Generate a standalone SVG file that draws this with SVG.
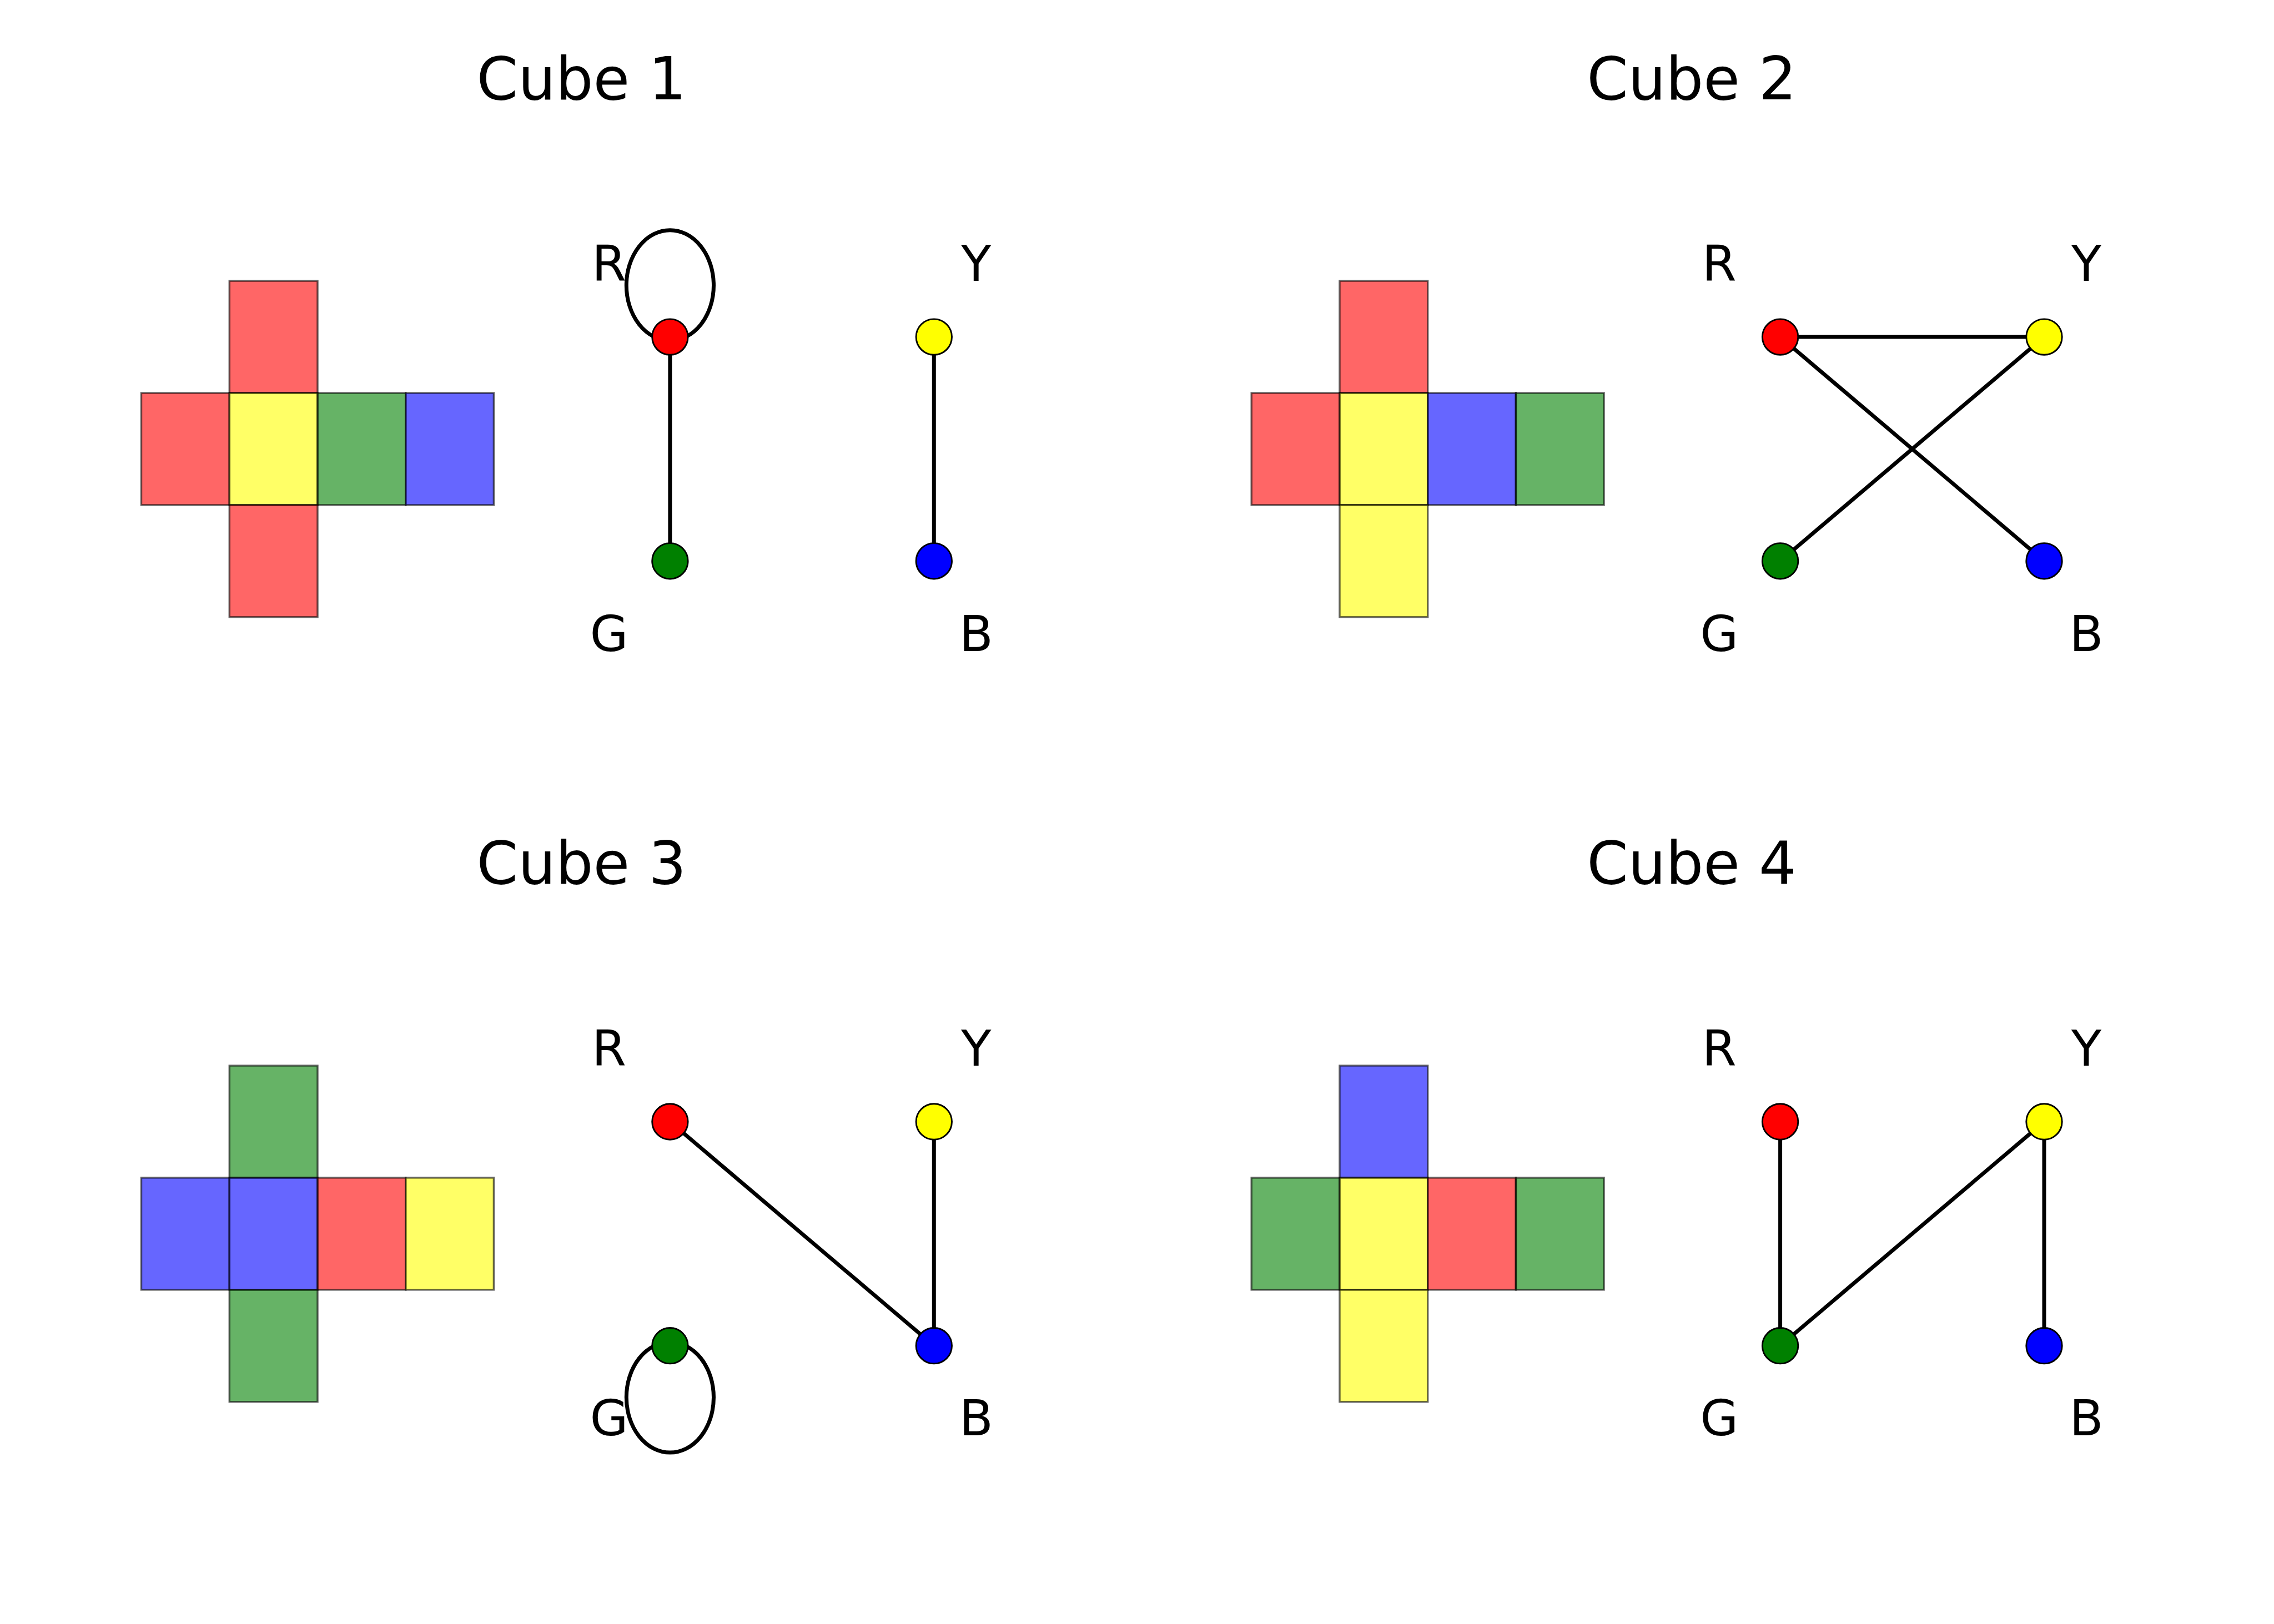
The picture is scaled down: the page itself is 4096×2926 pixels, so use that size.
<svg xmlns="http://www.w3.org/2000/svg" width="4096" height="2926" viewBox="0 0 4096 2926">
<style>
text{font-family:"DejaVu Sans","Liberation Sans",sans-serif;fill:#000}
.title{font-size:106.8px;text-anchor:middle}
.lbl{font-size:89.2px;text-anchor:middle}
.sq{stroke:#000;stroke-opacity:.6;stroke-width:3.4;fill-opacity:.6}
.fr{fill:#ff0000}.fy{fill:#ffff00}.fg{fill:#008000}.fb{fill:#0000ff}
.edge{stroke:#000;stroke-width:7;fill:none}
.node{stroke:#000;stroke-width:2.9}
</style>
<rect x="0" y="0" width="4096" height="2926" fill="#fff"/>

<!-- Cube 1 -->
<g id="cube1">
  <text class="title" x="1047.4" y="178.5">Cube 1</text>
  <g id="net1">
    <rect class="sq fr" x="413.3" y="506.1" width="158.7" height="201.9"/>
    <rect class="sq fr" x="254.5" y="708" width="158.7" height="201.9"/>
    <rect class="sq fy" x="413.3" y="708" width="158.7" height="201.9"/>
    <rect class="sq fg" x="572" y="708" width="158.7" height="201.9"/>
    <rect class="sq fb" x="730.7" y="708" width="158.7" height="201.9"/>
    <rect class="sq fr" x="413.3" y="909.9" width="158.7" height="201.9"/>
  </g>
  <g id="edges1">
    <ellipse class="edge" cx="1206.9" cy="514.2" rx="78.6" ry="99.5"/>
    <line class="edge" x1="1206.9" y1="607.1" x2="1206.9" y2="1010.8"/>
    <line class="edge" x1="1682.3" y1="607.1" x2="1682.3" y2="1010.8"/>
  </g>
  <g id="c1R"><circle class="node" cx="1206.9" cy="607.1" r="32.2" fill="#ff0000"/><text class="lbl" x="1097.1" y="506.1">R</text></g>
  <g id="c1Y"><circle class="node" cx="1682.3" cy="607.1" r="32.2" fill="#ffff00"/><text class="lbl" x="1758.3" y="506.1">Y</text></g>
  <g id="c1G"><circle class="node" cx="1206.9" cy="1010.8" r="32.2" fill="#008000"/><text class="lbl" x="1097.1" y="1172.5">G</text></g>
  <g id="c1B"><circle class="node" cx="1682.3" cy="1010.8" r="32.2" fill="#0000ff"/><text class="lbl" x="1758.3" y="1172.5">B</text></g>
</g>

<!-- Cube 2 -->
<g id="cube2" transform="translate(1999.7,0)">
  <text class="title" x="1047.4" y="178.5">Cube 2</text>
  <g id="net2">
    <rect class="sq fr" x="413.3" y="506.1" width="158.7" height="201.9"/>
    <rect class="sq fr" x="254.5" y="708" width="158.7" height="201.9"/>
    <rect class="sq fy" x="413.3" y="708" width="158.7" height="201.9"/>
    <rect class="sq fb" x="572" y="708" width="158.7" height="201.9"/>
    <rect class="sq fg" x="730.7" y="708" width="158.7" height="201.9"/>
    <rect class="sq fy" x="413.3" y="909.9" width="158.7" height="201.9"/>
  </g>
  <g id="edges2">
    <line class="edge" x1="1206.9" y1="607.1" x2="1682.3" y2="607.1"/>
    <line class="edge" x1="1206.9" y1="607.1" x2="1682.3" y2="1010.8"/>
    <line class="edge" x1="1682.3" y1="607.1" x2="1206.9" y2="1010.8"/>
  </g>
  <g id="c2R"><circle class="node" cx="1206.9" cy="607.1" r="32.2" fill="#ff0000"/><text class="lbl" x="1097.1" y="506.1">R</text></g>
  <g id="c2Y"><circle class="node" cx="1682.3" cy="607.1" r="32.2" fill="#ffff00"/><text class="lbl" x="1758.3" y="506.1">Y</text></g>
  <g id="c2G"><circle class="node" cx="1206.9" cy="1010.8" r="32.2" fill="#008000"/><text class="lbl" x="1097.1" y="1172.5">G</text></g>
  <g id="c2B"><circle class="node" cx="1682.3" cy="1010.8" r="32.2" fill="#0000ff"/><text class="lbl" x="1758.3" y="1172.5">B</text></g>
</g>

<!-- Cube 3 -->
<g id="cube3" transform="translate(0,1413.9)">
  <text class="title" x="1047.4" y="178.5">Cube 3</text>
  <g id="net3">
    <rect class="sq fg" x="413.3" y="506.1" width="158.7" height="201.9"/>
    <rect class="sq fb" x="254.5" y="708" width="158.7" height="201.9"/>
    <rect class="sq fb" x="413.3" y="708" width="158.7" height="201.9"/>
    <rect class="sq fr" x="572" y="708" width="158.7" height="201.9"/>
    <rect class="sq fy" x="730.7" y="708" width="158.7" height="201.9"/>
    <rect class="sq fg" x="413.3" y="909.9" width="158.7" height="201.9"/>
  </g>
  <g id="edges3">
    <line class="edge" x1="1206.9" y1="607.1" x2="1682.3" y2="1010.8"/>
    <line class="edge" x1="1682.3" y1="607.1" x2="1682.3" y2="1010.8"/>
    <ellipse class="edge" cx="1206.9" cy="1103.7" rx="78.6" ry="99.5"/>
  </g>
  <g id="c3R"><circle class="node" cx="1206.9" cy="607.1" r="32.2" fill="#ff0000"/><text class="lbl" x="1097.1" y="506.1">R</text></g>
  <g id="c3Y"><circle class="node" cx="1682.3" cy="607.1" r="32.2" fill="#ffff00"/><text class="lbl" x="1758.3" y="506.1">Y</text></g>
  <g id="c3G"><circle class="node" cx="1206.9" cy="1010.8" r="32.2" fill="#008000"/><text class="lbl" x="1097.1" y="1172.5">G</text></g>
  <g id="c3B"><circle class="node" cx="1682.3" cy="1010.8" r="32.2" fill="#0000ff"/><text class="lbl" x="1758.3" y="1172.5">B</text></g>
</g>

<!-- Cube 4 -->
<g id="cube4" transform="translate(1999.7,1413.9)">
  <text class="title" x="1047.4" y="178.5">Cube 4</text>
  <g id="net4">
    <rect class="sq fb" x="413.3" y="506.1" width="158.7" height="201.9"/>
    <rect class="sq fg" x="254.5" y="708" width="158.7" height="201.9"/>
    <rect class="sq fy" x="413.3" y="708" width="158.7" height="201.9"/>
    <rect class="sq fr" x="572" y="708" width="158.7" height="201.9"/>
    <rect class="sq fg" x="730.7" y="708" width="158.7" height="201.9"/>
    <rect class="sq fy" x="413.3" y="909.9" width="158.7" height="201.9"/>
  </g>
  <g id="edges4">
    <line class="edge" x1="1206.9" y1="607.1" x2="1206.9" y2="1010.8"/>
    <line class="edge" x1="1206.9" y1="1010.8" x2="1682.3" y2="607.1"/>
    <line class="edge" x1="1682.3" y1="607.1" x2="1682.3" y2="1010.8"/>
  </g>
  <g id="c4R"><circle class="node" cx="1206.9" cy="607.1" r="32.2" fill="#ff0000"/><text class="lbl" x="1097.1" y="506.1">R</text></g>
  <g id="c4Y"><circle class="node" cx="1682.3" cy="607.1" r="32.2" fill="#ffff00"/><text class="lbl" x="1758.3" y="506.1">Y</text></g>
  <g id="c4G"><circle class="node" cx="1206.9" cy="1010.8" r="32.2" fill="#008000"/><text class="lbl" x="1097.1" y="1172.5">G</text></g>
  <g id="c4B"><circle class="node" cx="1682.3" cy="1010.8" r="32.2" fill="#0000ff"/><text class="lbl" x="1758.3" y="1172.5">B</text></g>
</g>
</svg>
